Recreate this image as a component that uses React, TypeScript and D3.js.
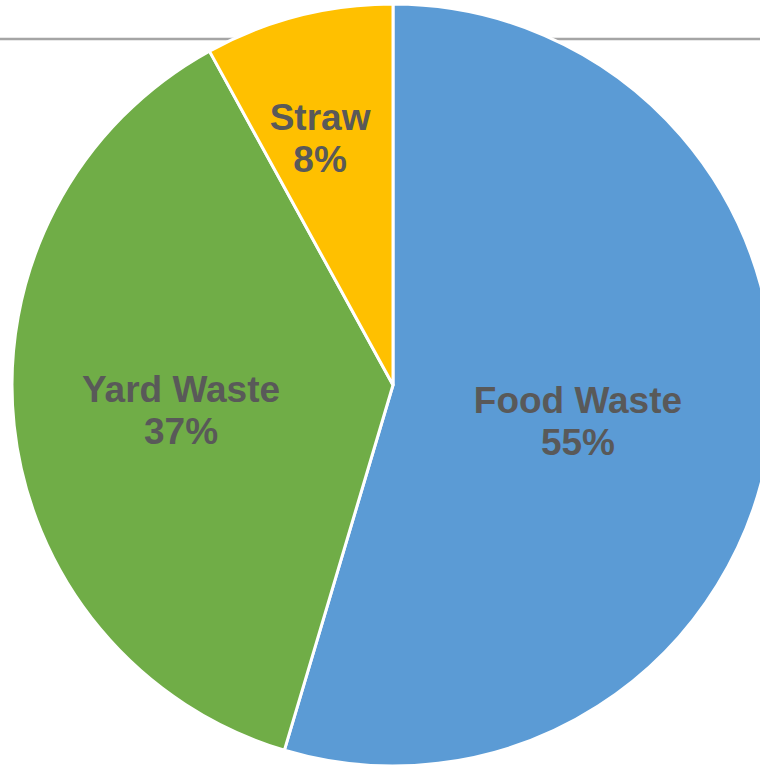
import React from "react";
import * as d3 from "d3";

const categories = ["Food Waste", "Yard Waste", "Straw"];
const values = [54.6, 37.4, 8.0];
const percentLabels = ["55%", "37%", "8%"];
const colors = ["#5B9BD5", "#70AD47", "#FFC000"];

// label placement (style): radius as fraction of pie radius, angular nudge in degrees
const labelRadiusFrac = [0.494, 0.56, 0.678];
const labelAngleNudge = [2.4, -0.4, -2.0];

const W = 760;
const H = 766;
const cx = 393;
const cy = 385;
const R = 381;

export default function App() {
  const data = categories.map((c, i) => ({ name: c, value: values[i], pct: percentLabels[i], i }));
  const pie = d3.pie<any>().sort(null).value((d: any) => d.value).startAngle(0).endAngle(2 * Math.PI);
  const arcs = pie(data);
  const arcGen = d3.arc<any>().innerRadius(0).outerRadius(R);

  return (
    <svg
      width={W}
      height={H}
      style={{ position: "absolute", left: 0, top: 0, background: "#fff" }}
      fontFamily="'Liberation Sans', Arial, sans-serif"
    >
      <line x1={0} x2={W} y1={39} y2={39} stroke="#A5A5A5" strokeWidth={2.5} />
      <g transform={`translate(${cx},${cy})`}>
        {arcs.map((a: any, i: number) => (
          <path key={i} d={arcGen(a) as string} fill={colors[i]} stroke="#fff" strokeWidth={3} strokeLinejoin="round" />
        ))}
        {arcs.map((a: any, i: number) => {
          const mid = (a.startAngle + a.endAngle) / 2 + (labelAngleNudge[i] * Math.PI) / 180;
          const rho = labelRadiusFrac[i] * R;
          const x = rho * Math.sin(mid);
          const y = -rho * Math.cos(mid);
          return (
            <text key={"t" + i} x={x} y={y} textAnchor="middle" fill="#595959" fontSize={37} fontWeight="bold">
              <tspan x={x} y={y - 7}>{a.data.name}</tspan>
              <tspan x={x} y={y + 35}>{a.data.pct}</tspan>
            </text>
          );
        })}
      </g>
    </svg>
  );
}
